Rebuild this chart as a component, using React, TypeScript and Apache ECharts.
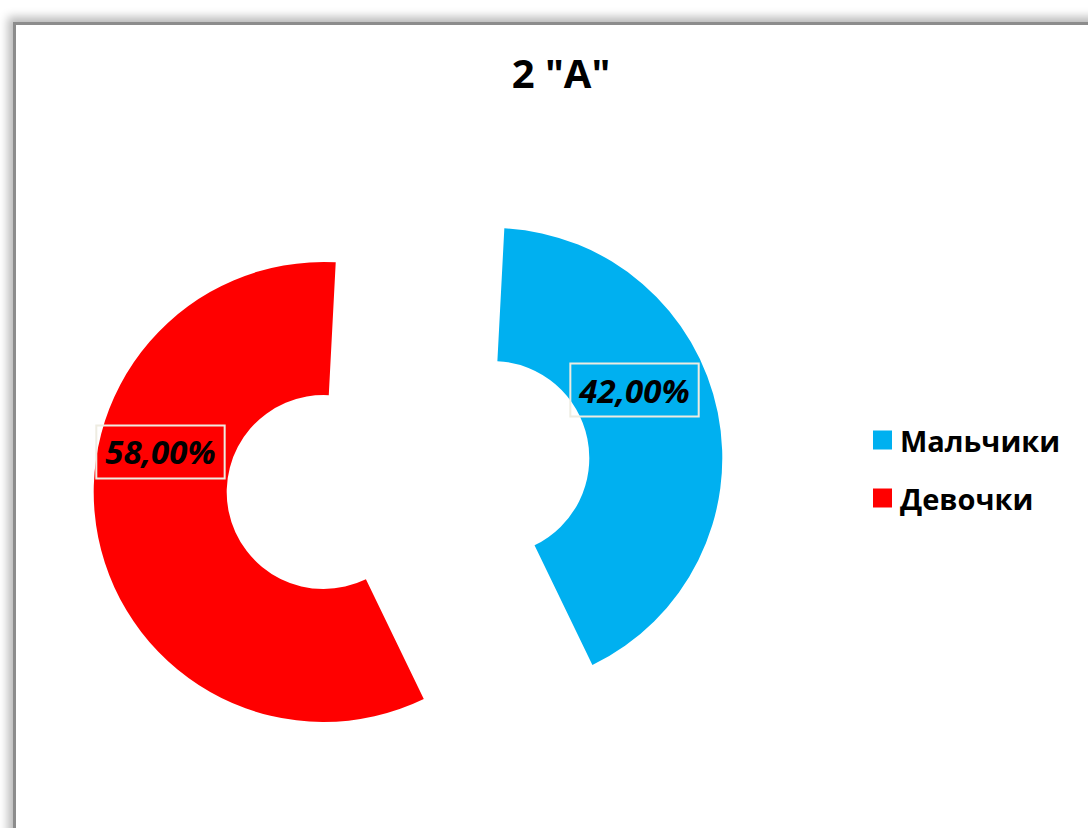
import React, { useEffect, useRef } from "react";
import * as echarts from "echarts";

const categories = ["Мальчики", "Девочки"];
const values = [42, 58];
const colors = ["#00B0F0", "#FF0000"];
const titleText = '2 "A"';

// label nudges (style/layout, not data)
const labelShift: number[][] = [
  [-21, -35],
  [0, -73],
];

export default function App() {
  const ref = useRef<HTMLDivElement>(null);
  useEffect(() => {
    const chart = echarts.init(ref.current!, null, { renderer: "svg" });
    chart.setOption({
      animation: false,
      backgroundColor: "transparent",
      title: {
        text: titleText,
        left: 556,
        top: 45,
        textAlign: "center",
        textStyle: {
          fontFamily: "Open Sans",
          fontWeight: "bold",
          fontSize: 40,
          lineHeight: 44,
          color: "#000",
        },
      },
      legend: {
        orient: "vertical",
        left: 868,
        top: 417,
        data: categories,
        icon: "rect",
        itemWidth: 19,
        itemHeight: 19,
        itemGap: 22,
        selectedMode: false,
        textStyle: {
          fontFamily: "Open Sans",
          fontWeight: "bold",
          fontSize: 29,
          lineHeight: 36,
          color: "#000",
          padding: [0, 0, 0, 3],
        },
      },
      series: [
        {
          type: "pie",
          center: [408, 475],
          radius: [97, 230],
          startAngle: 87,
          clockwise: true,
          selectedMode: "multiple",
          selectedOffset: 86,
          emphasis: { disabled: true },
          itemStyle: { borderWidth: 0 },
          data: categories.map((name, i) => ({
            name,
            value: values[i],
            selected: true,
            itemStyle: { color: colors[i] },
          })),
          label: {
            show: true,
            position: "inside",
            formatter: (p: any) => p.percent.toFixed(2).replace(".", ",") + "%",
            fontFamily: "Open Sans",
            fontWeight: "bold",
            fontStyle: "italic",
            fontSize: 33,
            lineHeight: 35,
            color: "#000",
            padding: [9, 9],
            borderColor: "#EEECE1",
            borderWidth: 2,
          },
          labelLine: { show: false },
          labelLayout: (params: any) => ({
            dx: labelShift[params.dataIndex][0],
            dy: labelShift[params.dataIndex][1],
          }),
        },
      ],
    });
    return () => chart.dispose();
  }, []);

  return (
    <div
      style={{
        position: "fixed",
        left: 0,
        top: 0,
        width: 1088,
        height: 828,
        background: "#fff",
        overflow: "hidden",
      }}
    >
      <div
        style={{
          position: "absolute",
          left: 13,
          top: 22,
          width: 1200,
          height: 1000,
          borderLeft: "3px solid #8c8c8c",
          borderTop: "3px solid #8c8c8c",
          boxShadow: "-5px -5px 9px rgba(0,0,0,0.28)",
          background: "#fff",
        }}
      />
      <div
        ref={ref}
        style={{ position: "absolute", left: 0, top: 0, width: 1088, height: 828 }}
      />
    </div>
  );
}
